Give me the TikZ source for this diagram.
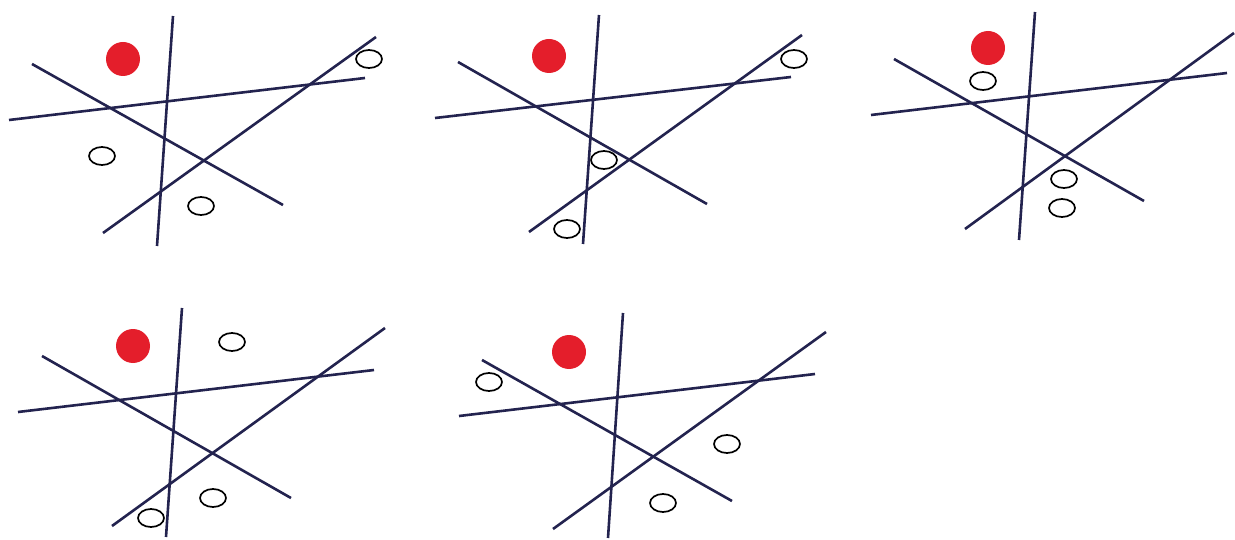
\documentclass[tikz,border=0pt]{standalone}
\usepackage{tikz}
\definecolor{StrokeNavy}{HTML}{23234F}
\definecolor{DotRed}{HTML}{E41E2B}

\begin{document}
\begin{tikzpicture}[
    x=1pt, y=-1pt,
    ray/.style={draw=StrokeNavy, line width=2.6pt},
    dot/.style={fill=DotRed},
    ring/.style={draw=black, line width=1.7pt}
]
  \useasboundingbox (0,0) rectangle (1235,540);

  \draw[ray] (173,16) -- (157,246);
  \draw[ray] (32,64) -- (283,205);
  \draw[ray] (9,120) -- (365,78);
  \draw[ray] (103,233) -- (376,37);
  \fill[dot] (123,59) circle (17pt);
  \draw[ring] (369,59) ellipse [x radius=13pt, y radius=9pt];
  \draw[ring] (102,156) ellipse [x radius=13pt, y radius=9pt];
  \draw[ring] (201,206) ellipse [x radius=13pt, y radius=9pt];

  \draw[ray] (599,15) -- (583,244);
  \draw[ray] (458,62) -- (707,204);
  \draw[ray] (435,118) -- (791,77);
  \draw[ray] (529,232) -- (802,35);
  \fill[dot] (549,56) circle (17pt);
  \draw[ring] (794,59) ellipse [x radius=13pt, y radius=9pt];
  \draw[ring] (604,160) ellipse [x radius=13pt, y radius=9pt];
  \draw[ring] (567,229) ellipse [x radius=13pt, y radius=9pt];

  \draw[ray] (1035,12) -- (1019,240);
  \draw[ray] (894,59) -- (1144,201);
  \draw[ray] (871,115) -- (1227,73);
  \draw[ray] (965,229) -- (1234,33);
  \fill[dot] (988,48) circle (17pt);
  \draw[ring] (983,81) ellipse [x radius=13pt, y radius=9pt];
  \draw[ring] (1064,179) ellipse [x radius=13pt, y radius=9pt];
  \draw[ring] (1062,208) ellipse [x radius=13pt, y radius=9pt];

  \draw[ray] (182,308) -- (166,537);
  \draw[ray] (42,356) -- (291,498);
  \draw[ray] (18,412) -- (374,370);
  \draw[ray] (112,526) -- (385,328);
  \fill[dot] (133,346) circle (17pt);
  \draw[ring] (232,342) ellipse [x radius=13pt, y radius=9pt];
  \draw[ring] (213,498) ellipse [x radius=13pt, y radius=9pt];
  \draw[ring] (151,518) ellipse [x radius=13pt, y radius=9pt];

  \draw[ray] (623,313) -- (608,538);
  \draw[ray] (482,360) -- (732,501);
  \draw[ray] (459,416) -- (815,374);
  \draw[ray] (553,529) -- (826,332);
  \fill[dot] (569,352) circle (17pt);
  \draw[ring] (489,382) ellipse [x radius=13pt, y radius=9pt];
  \draw[ring] (727,444) ellipse [x radius=13pt, y radius=9pt];
  \draw[ring] (663,503) ellipse [x radius=13pt, y radius=9pt];
\end{tikzpicture}
\end{document}
